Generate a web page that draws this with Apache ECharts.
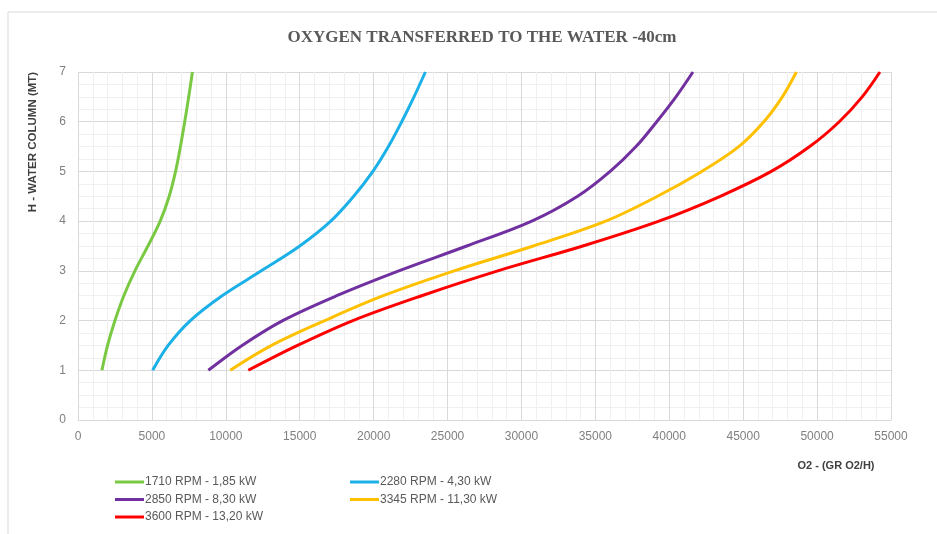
<!DOCTYPE html>
<html>
<head>
<meta charset="utf-8">
<title>Oxygen transferred to the water</title>
<script src="https://cdn.jsdelivr.net/npm/echarts@6/dist/echarts.min.js"></script>
<style>
  html, body { margin: 0; padding: 0; background: #fff; }
  #chart { width: 937px; height: 534px; }
</style>
</head>
<body>
<div id="chart"></div>
<script>
  // altezza colonna d'acqua (MT), passo 0,5
  var heights = [1, 1.5, 2, 2.5, 3, 3.5, 4, 4.5, 5, 5.5, 6, 6.5, 7];
  var rpm1710 = [1620, 2000, 2500, 3100, 3850, 4730, 5560, 6170, 6600, 6930, 7220, 7490, 7740];
  var rpm2280 = [5050, 6100, 7600, 9750, 12400, 15000, 17100, 18650, 19950, 21000, 21900, 22730, 23500];
  var rpm2850 = [8820, 11100, 13850, 17500, 21700, 26300, 30700, 33800, 36000, 37750, 39150, 40450, 41600];
  var rpm3345 = [10300, 13100, 16700, 20650, 25450, 30800, 35700, 39200, 42200, 44700, 46400, 47650, 48600];
  var rpm3600 = [11520, 14850, 18600, 23250, 28400, 34150, 39300, 43450, 46900, 49500, 51500, 53050, 54250];
  var seriesNames = [
    "1710 RPM - 1,85 kW",
    "2280 RPM - 4,30 kW",
    "2850 RPM - 8,30 kW",
    "3345 RPM - 11,30 kW",
    "3600 RPM - 13,20 kW"
  ];
  var seriesData = [rpm1710, rpm2280, rpm2850, rpm3345, rpm3600];
  var colors = ["#7ac943", "#1cb0e8", "#7030a0", "#ffc000", "#ff0000"];

  var chart = echarts.init(document.getElementById("chart"));

  var legendBase = {
    orient: "vertical",
    itemWidth: 29,
    itemHeight: 3,
    itemGap: 3.5,
    icon: "rect",
    textStyle: { fontFamily: "Liberation Sans", fontSize: 12, color: "#595959", lineHeight: 14, padding: [0, 0, 0, -4] }
  };

  chart.setOption({
    animation: false,
    color: colors,
    title: {
      text: "OXYGEN TRANSFERRED TO THE WATER -40cm",
      left: 477,
      textAlign: "center",
      top: 24,
      textStyle: { fontFamily: "Liberation Serif", fontWeight: "bold", fontSize: 17, color: "#595959" }
    },
    legend: [
      Object.assign({ left: 110, top: 470, data: [seriesNames[0], seriesNames[2], seriesNames[4]] }, legendBase),
      Object.assign({ left: 345, top: 470, data: [seriesNames[1], seriesNames[3]] }, legendBase)
    ],
    grid: { left: 78, right: 46, top: 72, bottom: 114 },
    graphic: [
      {
        type: "rect",
        shape: { x: 8, y: 12, width: 960, height: 560 },
        style: { fill: "none", stroke: "#d9d9d9", lineWidth: 1 },
        silent: true
      },
      {
        type: "text",
        x: 33,
        y: 142,
        rotation: Math.PI / 2,
        style: {
          text: "H - WATER COLUMN (MT)",
          fontFamily: "Liberation Sans",
          fontWeight: "bold",
          fontSize: 11.5,
          fill: "#404040",
          align: "center",
          verticalAlign: "middle"
        }
      },
      {
        type: "text",
        x: 836,
        y: 466,
        style: {
          text: "O2 - (GR O2/H)",
          fontFamily: "Liberation Sans",
          fontWeight: "bold",
          fontSize: 11,
          fill: "#404040",
          align: "center",
          verticalAlign: "middle"
        }
      }
    ],
    xAxis: {
      type: "value",
      min: 0,
      max: 55000,
      interval: 5000,
      axisLine: { show: true, lineStyle: { color: "#d9d9d9" } },
      axisTick: { show: false },
      axisLabel: {
        fontFamily: "Liberation Sans", fontSize: 12, color: "#808080", margin: 11,
        formatter: function (v) { return String(v); }
      },
      splitLine: { show: true, lineStyle: { color: "#d9d9d9" } },
      minorTick: { show: false, splitNumber: 5 },
      minorSplitLine: { show: true, lineStyle: { color: "#f0f0f0" } }
    },
    yAxis: {
      type: "value",
      min: 0,
      max: 7,
      interval: 1,
      axisLine: { show: false },
      axisTick: { show: false },
      axisLabel: { fontFamily: "Liberation Sans", fontSize: 12, color: "#808080", margin: 12 },
      splitLine: { show: true, lineStyle: { color: "#d9d9d9" } },
      minorTick: { show: false, splitNumber: 4 },
      minorSplitLine: { show: true, lineStyle: { color: "#f0f0f0" } }
    },
    series: seriesData.map(function (d, i) {
      return {
        name: seriesNames[i],
        type: "line",
        data: d.map(function (x, k) { return [x, heights[k]]; }),
        smooth: 0.35,
        showSymbol: false,
        lineStyle: { width: 3, color: colors[i] },
        itemStyle: { color: colors[i] }
      };
    })
  });
</script>
</body>
</html>
